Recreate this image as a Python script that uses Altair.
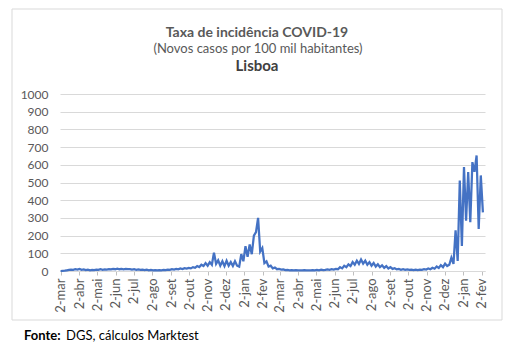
import altair as alt
import pandas as pd

# Series start and sampling step (two readings per week)
start_date = "2020-03-02"
step_hours = 84

# Values (new cases per 100k), in chronological chunks
v_2020_spring_summer = [0, 1, 2, 4, 6, 8, 7, 10, 8, 12,
                        7, 9, 5, 7, 4, 6, 5, 8, 6, 10,
                        7, 9, 8, 11, 9, 12, 10, 13, 10, 12,
                        9, 12, 10, 11, 8, 10, 7, 9, 6, 8,
                        5, 7, 4, 6, 4, 5, 3, 5, 4, 6,
                        5, 8, 6, 10, 8, 12, 9, 14, 11, 16]
v_2020_autumn_winter = [14, 18, 15, 22, 18, 28, 22, 35, 28, 45,
                        30, 50, 35, 104, 40, 60, 30, 55, 28, 58,
                        30, 50, 28, 55, 30, 25, 95, 55, 140, 80,
                        150, 95, 200, 220, 300, 110, 130, 45, 55, 25,
                        30, 15, 20, 10, 12]
v_2021_spring = [8, 9, 5, 6, 4, 5, 3, 5, 3, 4,
                 3, 5, 3, 4, 3, 5, 4, 6, 4, 7,
                 5]
v_2021_summer = [6, 9, 7, 10, 8, 12, 10, 22, 15, 30,
                 22, 38, 28, 50, 35, 58, 40, 65, 42, 58,
                 35, 50, 30, 45, 25, 38, 22, 32, 18, 28,
                 14, 22, 12, 16, 9, 12, 7, 10, 6, 9]
v_2021_late = [6, 8, 5, 7, 5, 8, 6, 10, 8, 14,
               10, 18, 13, 25, 17, 33, 22, 42, 28, 35,
               75, 40, 230, 57, 511, 142, 587, 284, 559, 275,
               615, 560, 653, 237, 540, 331]

values = v_2020_spring_summer + v_2020_autumn_winter + v_2021_spring + v_2021_summer + v_2021_late
dates = [(pd.Timestamp(start_date) + pd.Timedelta(hours=step_hours * i)).strftime("%Y-%m-%dT%H:%M:%S")
         for i in range(len(values))]
df = pd.DataFrame({"date": dates, "value": values})

# Axis tick labels: 2nd of every month
tick_months = [(2020, m) for m in range(3, 13)] + [(2021, m) for m in range(1, 13)] + [(2022, m) for m in range(1, 3)]
tick_values = [alt.DateTime(year=y, month=m, date=2) for y, m in tick_months]
pt_months = "['jan','fev','mar','abr','mai','jun','jul','ago','set','out','nov','dez']"
y_ticks = [0, 100, 200, 300, 400, 500, 600, 700, 800, 900, 1000]

title1 = "Taxa de incidência COVID-19"
title2 = "(Novos casos por 100 mil habitantes)"
title3 = "Lisboa"
source_bold = "Fonte:"
source_rest = "DGS, cálculos Marktest"

FONT = "Lato"
GREY = "#595959"

line = alt.Chart(df).mark_line(color="#4472C4", strokeWidth=2.25).encode(
    x=alt.X("date:T",
            scale=alt.Scale(domain=[alt.DateTime(year=2020, month=3, date=1),
                                    alt.DateTime(year=2022, month=2, date=7)]),
            axis=alt.Axis(values=tick_values,
                          labelExpr="'2-' + " + pt_months + "[month(datum.value)]",
                          labelAngle=270, labelFontSize=13, labelFont=FONT, labelColor=GREY,
                          labelPadding=3, labelOverlap=False, tickSize=4,
                          tickColor="#bfbfbf", domainColor="#d9d9d9", grid=False, title=None)),
    y=alt.Y("value:Q",
            scale=alt.Scale(domain=[0, 1000], nice=False),
            axis=alt.Axis(values=y_ticks, format="d", title=None, domain=False, ticks=False,
                          gridColor="#d9d9d9", labelFontSize=12, labelFont=FONT,
                          labelColor=GREY, labelPadding=12)),
)

one = pd.DataFrame({"k": [0]})

border = alt.Chart(one).mark_rect(fillOpacity=0, stroke="#d9d9d9", strokeWidth=1).encode(
    x=alt.value(-48), x2=alt.value(442), y=alt.value(-85), y2=alt.value(226))

t1 = alt.Chart(one).mark_text(text=title1, font=FONT, fontSize=14, fontWeight="bold", color=GREY,
                              align="center", baseline="alphabetic").encode(x=alt.value(197), y=alt.value(-57))
t2 = alt.Chart(one).mark_text(text=title2, font=FONT, fontSize=13, color=GREY,
                              align="center", baseline="alphabetic").encode(x=alt.value(198), y=alt.value(-41))
t3 = alt.Chart(one).mark_text(text=title3, font=FONT, fontSize=15, fontWeight="bold", color="#404040",
                              align="center", baseline="alphabetic").encode(x=alt.value(197), y=alt.value(-23))
s1 = alt.Chart(one).mark_text(text=source_bold, font=FONT, fontSize=13, fontWeight="bold", color="#000000",
                              align="left", baseline="alphabetic").encode(x=alt.value(-36), y=alt.value(246))
s2 = alt.Chart(one).mark_text(text=source_rest, font=FONT, fontSize=13, color="#000000",
                              align="left", baseline="alphabetic").encode(x=alt.value(6), y=alt.value(246))

chart = alt.layer(border, line, t1, t2, t3, s1, s2).properties(
    width=425, height=177,
    padding={"left": 52, "top": 86, "right": 20, "bottom": 76},
    autosize=alt.AutoSizeParams(type="none"),
    background="white",
).configure_view(stroke=None)

chart.save("out.html", embed_options={"renderer": "svg", "actions": False})
